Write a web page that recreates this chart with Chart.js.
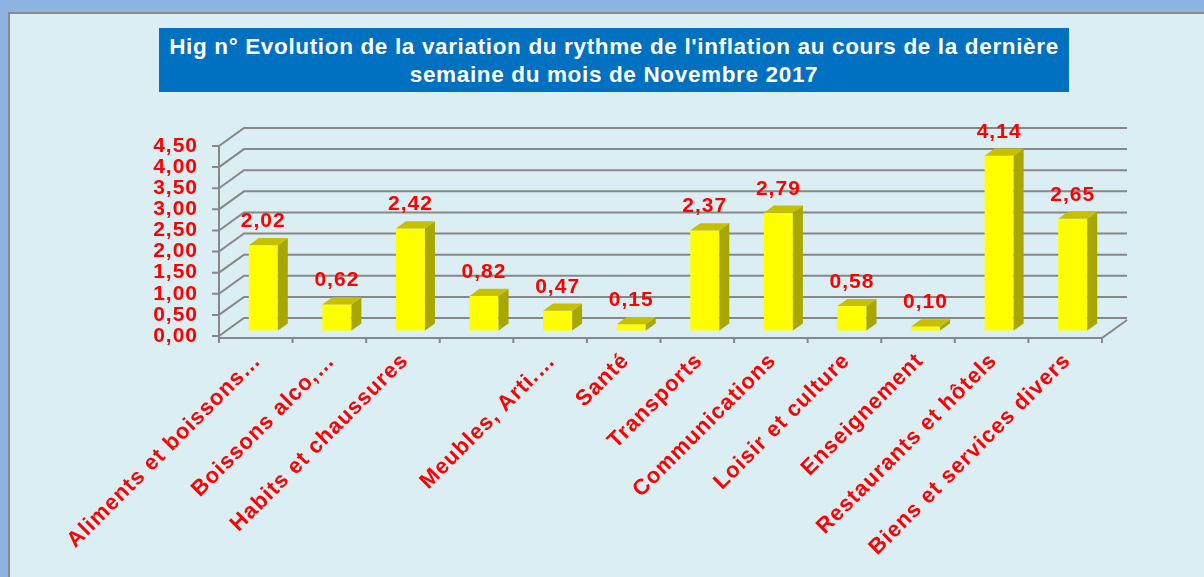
<!DOCTYPE html>
<html>
<head>
<meta charset="utf-8">
<script src="https://cdn.jsdelivr.net/npm/chart.js@4/dist/chart.umd.min.js"></script>
<style>
  html, body { margin: 0; padding: 0; }
  body { width: 1204px; height: 577px; background: #8db4e2; position: relative; overflow: hidden; font-family: "Liberation Sans", Arial, sans-serif; }
  .panel { position: absolute; left: 8px; top: 12px; width: 1210px; height: 580px; background: #daeef3; border-top: 2px solid #8a8a8a; border-left: 2px solid #8a8a8a; }
  .title { position: absolute; left: 159px; top: 28px; width: 910px; height: 64px; background: #0070c0; color: #fff;
           font-weight: bold; font-size: 22.5px; line-height: 28px; letter-spacing: 0.65px; text-align: center;
           padding-top: 5px; box-sizing: border-box; white-space: nowrap; }
  canvas { position: absolute; left: 0; top: 0; }
</style>
</head>
<body>
<div class="panel"></div>
<div class="title">Hig n° Evolution de la variation du rythme de l'inflation au cours de la dernière<br>semaine du mois de Novembre 2017</div>
<canvas id="chart" width="1204" height="577"></canvas>
<script>
// categories (4th label is not shown in the source picture)
var categories = [
  'Aliments et boissons…', 'Boissons alco,…', 'Habits et chaussures', '',
  'Meubles, Arti.…', 'Santé', 'Transports', 'Communications',
  'Loisir et culture', 'Enseignement', 'Restaurants et hôtels', 'Biens et services divers'
];
var inflation = [2.02, 0.62, 2.42, 0.82, 0.47, 0.15, 2.37, 2.79, 0.58, 0.10, 4.14, 2.65];
var yMin = 0, yMax = 4.5, yStep = 0.5;

var FONT = '"Liberation Sans", Arial, sans-serif';
var RED = '#ff0000';
var GRID = '#878787';

// depth of the fake 3D box, and where bars sit inside it
var DX = 25, DY = 18;
var BAR_F0 = 0.3, BAR_DEPTH = 0.4;

function fmt(v) { return v.toFixed(2).replace('.', ','); }

// the source uses slightly wide lettering
function spacing(chart) { chart.ctx.letterSpacing = '1px'; }

var depth3d = {
  id: 'depth3d',
  beforeLayout: spacing,
  beforeDraw: spacing,
  beforeDatasetsDraw: function (chart) {
    var ctx = chart.ctx, a = chart.chartArea;
    var ys = chart.scales.y;
    ctx.save();
    ctx.strokeStyle = GRID;
    ctx.lineWidth = 2;
    // back wall grid + side wall diagonals
    ys.ticks.forEach(function (t) {
      var y = ys.getPixelForValue(t.value);
      ctx.beginPath();
      ctx.moveTo(a.left, y);
      ctx.lineTo(a.left + DX, y - DY);
      ctx.lineTo(a.right + DX, y - DY);
      ctx.stroke();
    });
    // y axis line and ticks
    ctx.beginPath();
    ctx.moveTo(a.left, a.top);
    ctx.lineTo(a.left, a.bottom + 2);
    ys.ticks.forEach(function (t) {
      var y = ys.getPixelForValue(t.value);
      ctx.moveTo(a.left - 7, y);
      ctx.lineTo(a.left, y);
    });
    ctx.stroke();
    // floor front edge, right edge and category ticks
    ctx.beginPath();
    ctx.moveTo(a.left, a.bottom + 2);
    ctx.lineTo(a.right, a.bottom + 2);
    ctx.lineTo(a.right + DX, a.bottom + 2 - DY);
    var n = categories.length;
    for (var i = 0; i <= n; i++) {
      var x = a.left + (a.right - a.left) * i / n;
      ctx.moveTo(x, a.bottom + 2);
      ctx.lineTo(x, a.bottom + 7);
    }
    ctx.stroke();
    ctx.restore();
  },
  beforeDatasetDraw: function (chart) {
    chart.ctx.save();
    chart.ctx.translate(DX * BAR_F0, -DY * BAR_F0);
  },
  afterDatasetDraw: function (chart, args) {
    var ctx = chart.ctx;
    var sx = DX * BAR_DEPTH, sy = DY * BAR_DEPTH;
    args.meta.data.forEach(function (el) {
      var p = el.getProps(['x', 'y', 'base', 'width'], true);
      var l = p.x - p.width / 2, r = p.x + p.width / 2;
      // side face
      ctx.fillStyle = '#a8a600';
      ctx.beginPath();
      ctx.moveTo(r, p.y);
      ctx.lineTo(r + sx, p.y - sy);
      ctx.lineTo(r + sx, p.base - sy);
      ctx.lineTo(r, p.base);
      ctx.closePath();
      ctx.fill();
      // top face
      ctx.fillStyle = '#c6c000';
      ctx.beginPath();
      ctx.moveTo(l, p.y);
      ctx.lineTo(l + sx, p.y - sy);
      ctx.lineTo(r + sx, p.y - sy);
      ctx.lineTo(r, p.y);
      ctx.closePath();
      ctx.fill();
    });
    // value labels
    ctx.fillStyle = RED;
    ctx.font = 'bold 21px ' + FONT;
    ctx.textAlign = 'center';
    ctx.textBaseline = 'alphabetic';
    args.meta.data.forEach(function (el, i) {
      var p = el.getProps(['x', 'y'], true);
      ctx.fillText(fmt(inflation[i]), p.x, p.y - sy - 11);
    });
    ctx.restore();
  }
};

new Chart(document.getElementById('chart'), {
  type: 'bar',
  data: {
    labels: categories,
    datasets: [{
      data: inflation,
      backgroundColor: '#ffff00',
      borderWidth: 0,
      barPercentage: 0.394,
      categoryPercentage: 1,
      clip: false
    }]
  },
  options: {
    responsive: false,
    animation: false,
    events: [],
    layout: { padding: { left: 0, top: 146, right: 102, bottom: 0 } },
    plugins: { legend: { display: false }, tooltip: { enabled: false }, title: { display: false } },
    scales: {
      x: {
        grid: { display: false, drawTicks: false },
        border: { display: false },
        ticks: {
          autoSkip: false, maxRotation: 45, minRotation: 45,
          color: RED, font: { family: FONT, weight: 'bold', size: 22 },
          padding: 12, labelOffset: 2
        },
        afterFit: function (s) { s.height = 241; }
      },
      y: {
        min: yMin, max: yMax,
        grid: { display: false, drawTicks: false },
        border: { display: false },
        ticks: {
          stepSize: yStep, autoSkip: false, color: RED, padding: 21,
          font: { family: FONT, weight: 'bold', size: 21 },
          callback: function (v) { return fmt(v); }
        },
        afterFit: function (s) { s.width = 219; }
      }
    }
  },
  plugins: [depth3d]
});
</script>
</body>
</html>
